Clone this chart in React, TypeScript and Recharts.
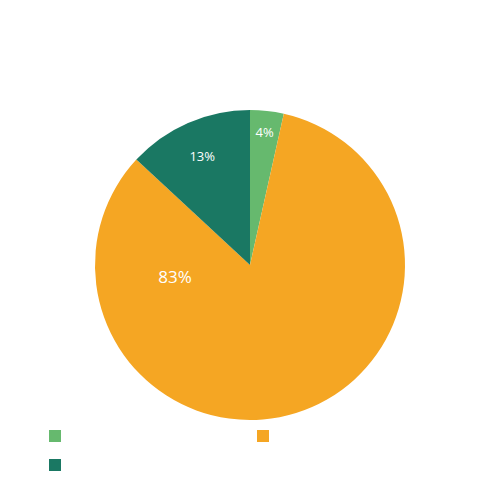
import React from "react";
import { PieChart, Pie, Cell, Legend } from "recharts";

const categories = ["A", "B", "C"];
const values = [3.5, 83.4, 13.1];
const colors = ["#66b96e", "#f5a623", "#1a7863"];

const data = categories.map((name, i) => ({ name, value: values[i] }));
const total = values.reduce((a, b) => a + b, 0);

const RAD = Math.PI / 180;
const labelCfg = [
  { frac: 0.865, angle: null as number | null, size: 13 },
  { frac: 0.49, angle: 189, size: 17 },
  { frac: 0.77, angle: null as number | null, size: 13 },
];

const renderLabel = (props: any) => {
  const { cx, cy, midAngle, outerRadius, index, value } = props;
  const cfg = labelCfg[index];
  const a = cfg.angle ?? midAngle;
  const r = outerRadius * cfg.frac;
  const x = cx + r * Math.cos(-a * RAD);
  const y = cy + r * Math.sin(-a * RAD);
  return (
    <text
      x={x}
      y={y}
      fill="#ffffff"
      fontSize={cfg.size}
      fontFamily="Open Sans, sans-serif"
      textAnchor="middle"
      dominantBaseline="central"
    >
      {Math.round((value / total) * 100) + "%"}
    </text>
  );
};

const LegendContent = () => (
  <div style={{ position: "relative", width: 420, height: 42 }}>
    {categories.map((c, i) => (
      <div
        key={c}
        style={{
          position: "absolute",
          left: (i % 2) * 208,
          top: Math.floor(i / 2) * 29,
          width: 12,
          height: 12,
          background: colors[i],
        }}
      />
    ))}
  </div>
);

export default function App() {
  return (
    <div style={{ position: "absolute", left: 0, top: 0, width: 500, height: 500, background: "#fff" }}>
      <PieChart width={500} height={500} margin={{ top: 0, right: 0, bottom: 0, left: 0 }}>
        <Pie
          data={data}
          dataKey="value"
          nameKey="name"
          cx={250}
          cy={265}
          outerRadius={155}
          startAngle={90}
          endAngle={-270}
          stroke="none"
          label={renderLabel}
          labelLine={false}
          isAnimationActive={false}
        >
          {data.map((d, i) => (
            <Cell key={d.name} fill={colors[i]} />
          ))}
        </Pie>
        <Legend
          content={<LegendContent />}
          wrapperStyle={{ position: "absolute", left: 49, top: 430, width: 420, height: 42 }}
        />
      </PieChart>
    </div>
  );
}
